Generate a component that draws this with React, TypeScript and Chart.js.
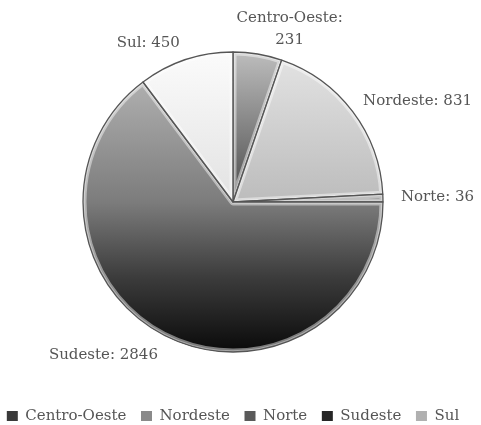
import React, { useEffect, useRef } from "react";
import { Chart, registerables } from "chart.js";

Chart.register(...registerables);

const categories = ["Centro-Oeste", "Nordeste", "Norte", "Sudeste", "Sul"];
const values = [231, 831, 36, 2846, 450];
const legendColors = ["#3a3a3a", "#8a8a8a", "#5a5a5a", "#262626", "#b0b0b0"];
const sliceStops: [number, string][][] = [
  [[0, "#bdbdbd"], [0.5, "#4a4a4a"], [1, "#4a4a4a"]],
  [[0, "#e4e4e4"], [0.5, "#bcbcbc"], [1, "#bcbcbc"]],
  [[0, "#9a9a9a"], [1, "#7a7a7a"]],
  [[0, "#bcbcbc"], [0.5, "#7c7c7c"], [0.75, "#3c3c3c"], [1, "#0a0a0a"]],
  [[0, "#fbfbfb"], [0.5, "#e2e2e2"], [1, "#e2e2e2"]],
];
const labelNudge: [number, number][] = [[29, -7], [-4, 0], [0, 0], [0, 3], [0, 0]];

const PIE_RADIUS = 150;
const FONT = '"DejaVu Serif", serif';
const TEXT_COLOR = "#555555";
const CANVAS_W = 496;
const CANVAS_H = 425;
const CANVAS_SHIFT = -15;

const bevelPlugin = {
  id: "bevel",
  afterDatasetsDraw(chart: any) {
    const meta = chart.getDatasetMeta(0);
    const ctx = chart.ctx;
    meta.data.forEach((arc: any) => {
      const { x, y, startAngle, endAngle, outerRadius } = arc.getProps(
        ["x", "y", "startAngle", "endAngle", "outerRadius"],
        true
      );
      ctx.save();
      ctx.beginPath();
      ctx.moveTo(x, y);
      ctx.arc(x, y, outerRadius, startAngle, endAngle);
      ctx.closePath();
      ctx.clip();
      ctx.strokeStyle = "rgba(255,255,255,0.45)";
      ctx.lineWidth = 7;
      ctx.lineJoin = "round";
      ctx.stroke();
      ctx.strokeStyle = "rgba(255,255,255,0.35)";
      ctx.lineWidth = 3.5;
      ctx.stroke();
      ctx.restore();
      ctx.save();
      ctx.beginPath();
      ctx.moveTo(x, y);
      ctx.arc(x, y, outerRadius, startAngle, endAngle);
      ctx.closePath();
      ctx.strokeStyle = "#555555";
      ctx.lineWidth = 1.3;
      ctx.lineJoin = "round";
      ctx.stroke();
      ctx.restore();
    });
  },
};

const labelPlugin = {
  id: "outLabels",
  afterDatasetsDraw(chart: any) {
    const meta = chart.getDatasetMeta(0);
    const ctx = chart.ctx;
    ctx.save();
    ctx.font = "15px " + FONT;
    ctx.fillStyle = TEXT_COLOR;
    ctx.textBaseline = "middle";
    meta.data.forEach((arc: any, i: number) => {
      const { x, y, startAngle, endAngle, outerRadius } = arc.getProps(
        ["x", "y", "startAngle", "endAngle", "outerRadius"],
        true
      );
      const mid = (startAngle + endAngle) / 2;
      const r = outerRadius + 18;
      const c = Math.cos(mid);
      const s = Math.sin(mid);
      const ax = x + r * c + labelNudge[i][0];
      const ay = y + r * s + labelNudge[i][1];
      let lines = [`${categories[i]}: ${values[i]}`];
      let align: CanvasTextAlign = "center";
      if (c > 0.3) align = "left";
      else if (c < -0.3) align = "right";
      else lines = [`${categories[i]}:`, `${values[i]}`];
      ctx.textAlign = align;
      const lh = 22;
      lines.forEach((ln, k) => {
        ctx.fillText(ln, ax, ay + (k - (lines.length - 1) / 2) * lh);
      });
    });
    ctx.restore();
  },
};

export default function App() {
  const ref = useRef<HTMLCanvasElement | null>(null);
  useEffect(() => {
    if (!ref.current) return;
    const chart = new Chart(ref.current, {
      type: "pie",
      data: {
        labels: categories,
        datasets: [
          {
            data: values,
            borderWidth: 0,
            backgroundColor: (context: any) => {
              const i = context.dataIndex;
              const ch = context.chart;
              const area = ch.chartArea;
              if (!area) return legendColors[i];
              const cy = (area.top + area.bottom) / 2;
              const g = ch.ctx.createLinearGradient(0, cy - PIE_RADIUS, 0, cy + PIE_RADIUS);
              sliceStops[i].forEach(([o, col]) => g.addColorStop(o, col));
              return g;
            },
          },
        ],
      },
      options: {
        responsive: false,
        animation: false,
        radius: PIE_RADIUS,
        layout: { padding: { top: 10.1, bottom: -8.5, left: 0, right: 0 } },
        plugins: {
          tooltip: { enabled: false },
          title: { display: false },
          legend: {
            display: true,
            position: "bottom",
            labels: {
              boxWidth: 11,
              boxHeight: 10,
              padding: 14.6,
              color: TEXT_COLOR,
              font: { family: FONT, size: 15 },
              generateLabels: (ch: any) => {
                const base = (Chart as any).overrides.pie.plugins.legend.labels.generateLabels(ch);
                return base.map((it: any, i: number) => ({
                  ...it,
                  fillStyle: legendColors[i],
                  strokeStyle: legendColors[i],
                  lineWidth: 0,
                  fontColor: TEXT_COLOR,
                }));
              },
            },
          },
        },
      } as any,
      plugins: [bevelPlugin, labelPlugin],
    });
    return () => chart.destroy();
  }, []);
  return (
    <div style={{ position: "fixed", left: 0, top: 0, width: 481, height: 425, overflow: "hidden", background: "#fff" }}>
      <canvas
        ref={ref}
        width={CANVAS_W}
        height={CANVAS_H}
        style={{ display: "block", position: "absolute", left: CANVAS_SHIFT, top: 0 }}
      />
    </div>
  );
}
